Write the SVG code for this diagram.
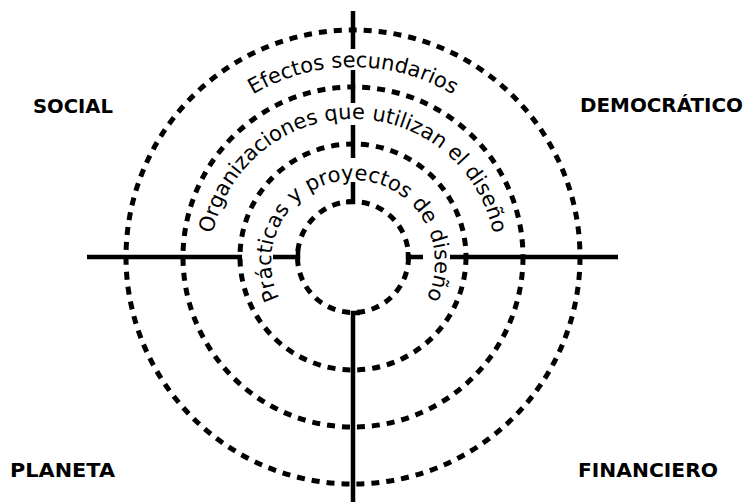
<svg xmlns="http://www.w3.org/2000/svg" width="749" height="502" viewBox="0 0 749 502">
<style>
.ring{fill:none;stroke:#000;stroke-width:5;stroke-dasharray:8 7}
.axis{fill:none;stroke:#000;stroke-width:4.5;stroke-linecap:butt}
.arc{font-family:"DejaVu Sans","Noto Sans",sans-serif;font-size:21px;fill:#000}
.label{font-family:"DejaVu Sans","Liberation Sans",sans-serif;font-weight:bold;font-size:19px;fill:#000}
</style>
<defs>
<path id="pEfectos" d="M158,262 A195,195 0 0 1 548,262"/>
<path id="pOrg" d="M229.2,333.5 A143,143 0 1 1 476.8,333.5"/>
<path id="pPrac" d="M312,333 A82,82 0 1 1 394,333"/>
</defs>
<rect width="749" height="502" fill="#fff"/>
<g id="rings">
<circle class="ring" cx="353" cy="257" r="227"/>
<circle class="ring" cx="353" cy="257" r="170"/>
<circle class="ring" cx="353" cy="257" r="113"/>
<circle class="ring" cx="353" cy="257" r="55.5"/>
</g>
<g id="connectors">
<path class="axis" d="M353,11V49 M353,70V103 M353,125V158 M353,182V202H346"/>
<path class="axis" d="M87,257H242 M273,257H298V251"/>
<path class="axis" d="M408,252V257H423 M450,257H618"/>
<path class="axis" d="M360,313H353V502"/>
</g>
<g id="ring-efectos">
<text class="arc"><textPath href="#pEfectos" startOffset="50%" text-anchor="middle">Efectos secundarios</textPath></text>
</g>
<g id="ring-organizaciones">
<text class="arc"><textPath href="#pOrg" startOffset="50%" text-anchor="middle">Organizaciones que utilizan el diseño</textPath></text>
</g>
<g id="ring-practicas">
<text class="arc"><textPath href="#pPrac" startOffset="50%" text-anchor="middle">Prácticas y proyectos de diseño</textPath></text>
</g>
<g id="social"><text class="label" x="33" y="113" textLength="80" lengthAdjust="spacingAndGlyphs">SOCIAL</text></g>
<g id="democratico"><text class="label" x="580" y="112" textLength="163" lengthAdjust="spacingAndGlyphs">DEMOCRÁTICO</text></g>
<g id="planeta"><text class="label" x="10" y="477" textLength="105" lengthAdjust="spacingAndGlyphs">PLANETA</text></g>
<g id="financiero"><text class="label" x="578" y="477" textLength="140" lengthAdjust="spacingAndGlyphs">FINANCIERO</text></g>
</svg>
